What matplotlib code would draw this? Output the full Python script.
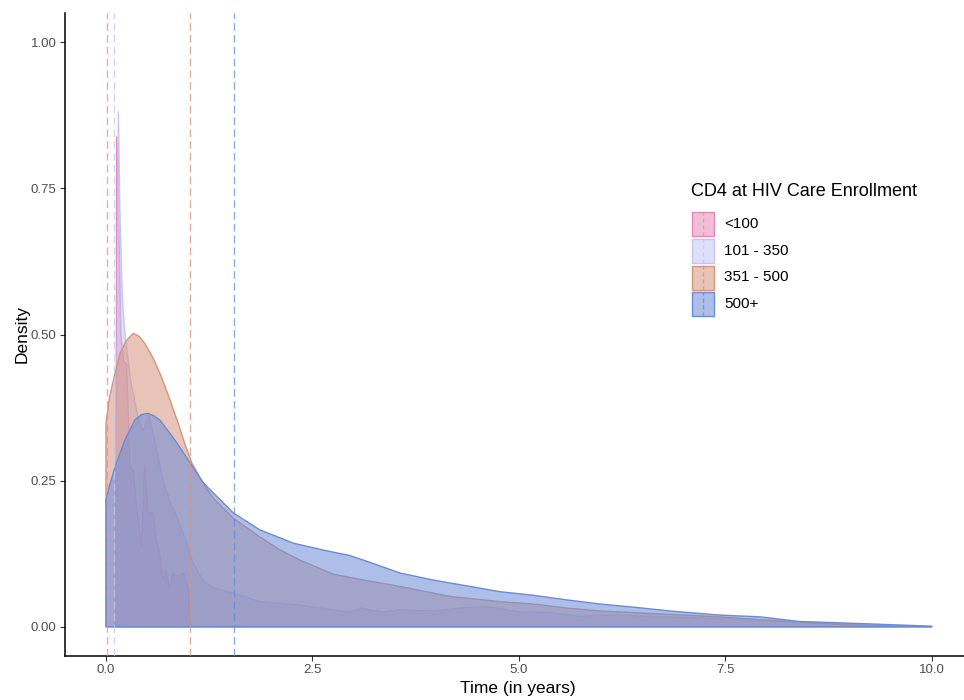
import numpy as np
import matplotlib
matplotlib.use("Agg")
import matplotlib.pyplot as plt
from matplotlib.patches import Rectangle
from matplotlib.lines import Line2D

plt.rcParams['font.family'] = ['Liberation Sans', 'DejaVu Sans']

# groups, colours and medians (dashed lines)
groups = ['<100', '101 - 350', '351 - 500', '500+']
colors = ['#E889B5', '#C3C6F6', '#D6937D', '#6A8CD8']
medians = [0.01, 0.095, 1.02, 1.55]

# density curves
x_lt100 = [0.12, 0.13, 0.16, 0.18, 0.21, 0.25, 0.29, 0.33, 0.37, 0.43, 0.47,
           0.51, 0.57, 0.61, 0.65, 0.69, 0.73, 0.77, 0.81, 0.87, 0.94, 1.00, 1.02]
y_lt100 = [0.0, 0.838, 0.65, 0.50, 0.456, 0.448, 0.274, 0.268, 0.206, 0.137, 0.274,
           0.195, 0.195, 0.149, 0.126, 0.080, 0.097, 0.063, 0.092, 0.086, 0.092, 0.063, 0.0]

x_101 = [0.12, 0.15, 0.17, 0.20, 0.23, 0.30, 0.40, 0.45, 0.52, 0.57, 0.64, 0.71, 0.79,
         0.875, 0.96, 1.04, 1.12, 1.20, 1.32, 1.54, 1.86, 2.27, 2.35, 2.75, 2.95, 3.08,
         3.36, 3.56, 3.96, 4.37, 4.65, 4.97, 5.38, 5.74, 5.98, 6.39, 7.0, 7.5, 8.0, 8.5,
         9.0, 9.5, 10.0]
y_101 = [0.0, 0.881, 0.70, 0.56, 0.50, 0.42, 0.35, 0.335, 0.36, 0.33, 0.285, 0.24, 0.21,
         0.183, 0.15, 0.115, 0.092, 0.075, 0.066, 0.058, 0.043, 0.038, 0.037, 0.029, 0.025,
         0.032, 0.025, 0.029, 0.027, 0.033, 0.034, 0.026, 0.024, 0.018, 0.020, 0.019, 0.016,
         0.014, 0.011, 0.008, 0.005, 0.002, 0.0]

x_351 = [0.0, 0.0, 0.04, 0.09, 0.17, 0.25, 0.33, 0.40, 0.47, 0.57, 0.67, 0.77, 0.875,
         0.95, 1.04, 1.2, 1.32, 1.55, 1.86, 2.1, 2.35, 2.75, 3.16, 3.56, 4.16, 4.77,
         5.17, 5.58, 5.98, 6.43, 7.43, 8.24, 9.04, 10.0]
y_351 = [0.0, 0.349, 0.39, 0.422, 0.468, 0.490, 0.502, 0.497, 0.485, 0.46, 0.428, 0.39, 0.348,
         0.315, 0.28, 0.24, 0.217, 0.185, 0.154, 0.132, 0.114, 0.090, 0.079, 0.069, 0.052,
         0.043, 0.039, 0.032, 0.027, 0.024, 0.017, 0.009, 0.003, 0.0]

x_500 = [0.0, 0.0, 0.05, 0.11, 0.23, 0.35, 0.43, 0.51, 0.58, 0.65, 0.775, 0.90, 1.02, 1.18,
         1.30, 1.54, 1.86, 2.27, 2.67, 2.95, 3.16, 3.56, 3.96, 4.37, 4.77, 5.17, 5.58,
         5.98, 6.43, 6.83, 7.43, 7.92, 8.4, 9.04, 10.0]
y_500 = [0.0, 0.217, 0.245, 0.274, 0.320, 0.354, 0.363, 0.365, 0.361, 0.354, 0.331, 0.306,
         0.280, 0.246, 0.229, 0.195, 0.166, 0.143, 0.130, 0.122, 0.112, 0.092, 0.080, 0.070,
         0.060, 0.054, 0.046, 0.039, 0.033, 0.027, 0.020, 0.017, 0.009, 0.006, 0.001]

curves = [(x_lt100, y_lt100), (x_101, y_101), (x_351, y_351), (x_500, y_500)]

W, H = 964, 700


def fx(px):
    return px / W


def fy(py):
    return 1 - py / H


fig = plt.figure(figsize=(W / 100, H / 100), dpi=100)
ax = fig.add_axes([fx(64.7), fy(656), fx(973 - 64.7), (656 - 13) / H])

for (xs, ys), c in zip(curves, colors):
    xs = np.asarray(xs)
    ys = np.asarray(ys)
    px = np.r_[xs, xs[-1], xs[0]]
    py = np.r_[ys, 0, 0]
    rgb = matplotlib.colors.to_rgb(c)
    ax.fill(px, py, facecolor=rgb + (0.55,), edgecolor=rgb, linewidth=1.0,
            joinstyle='round', zorder=2)

for m, c in zip(medians, colors):
    ax.axvline(m, color=c, linewidth=1.0, dashes=(5.5, 3), alpha=0.75, zorder=3)

ax.set_xlim(-0.5, 10.5)
ax.set_ylim(-0.05, 1.05)
ax.set_xticks([0, 2.5, 5, 7.5, 10])
ax.set_xticklabels(['0.0', '2.5', '5.0', '7.5', '10.0'])
ax.set_yticks([0, 0.25, 0.5, 0.75, 1.0])
ax.set_yticklabels(['0.00', '0.25', '0.50', '0.75', '1.00'])
ax.tick_params(axis='both', labelsize=9.5, labelcolor='#4D4D4D', color='#333333',
               length=3.5, width=0.8, pad=2.5)
for s in ['top', 'right']:
    ax.spines[s].set_visible(False)
for s in ['left', 'bottom']:
    ax.spines[s].set_linewidth(1.1)
    ax.spines[s].set_color('black')

fig.text(fx(518), fy(689), 'Time (in years)', ha='center', va='center', fontsize=12.5)
fig.text(fx(22), fy(334), 'Density', ha='center', va='center', rotation=90, fontsize=12.5)

# legend, drawn by hand like the ggplot key
fig.text(fx(691), fy(192), 'CD4 at HIV Care Enrollment', ha='left', va='center', fontsize=13)
row_y = [224, 251, 277.5, 304]
for g, c, ry in zip(groups, colors, row_y):
    rgb = matplotlib.colors.to_rgb(c)
    fig.add_artist(Rectangle((fx(692), fy(ry + 12)), fx(22), 24 / H,
                             transform=fig.transFigure, facecolor=rgb + (0.55,),
                             edgecolor=rgb, linewidth=1.0))
    fig.add_artist(Line2D([fx(703), fx(703)], [fy(ry + 12), fy(ry - 12)],
                          transform=fig.transFigure, color=c, linewidth=1.0,
                          dashes=(3, 2), alpha=0.75))
    fig.text(fx(724), fy(ry), g, ha='left', va='center', fontsize=11)

fig.savefig('out.png', dpi=100)
